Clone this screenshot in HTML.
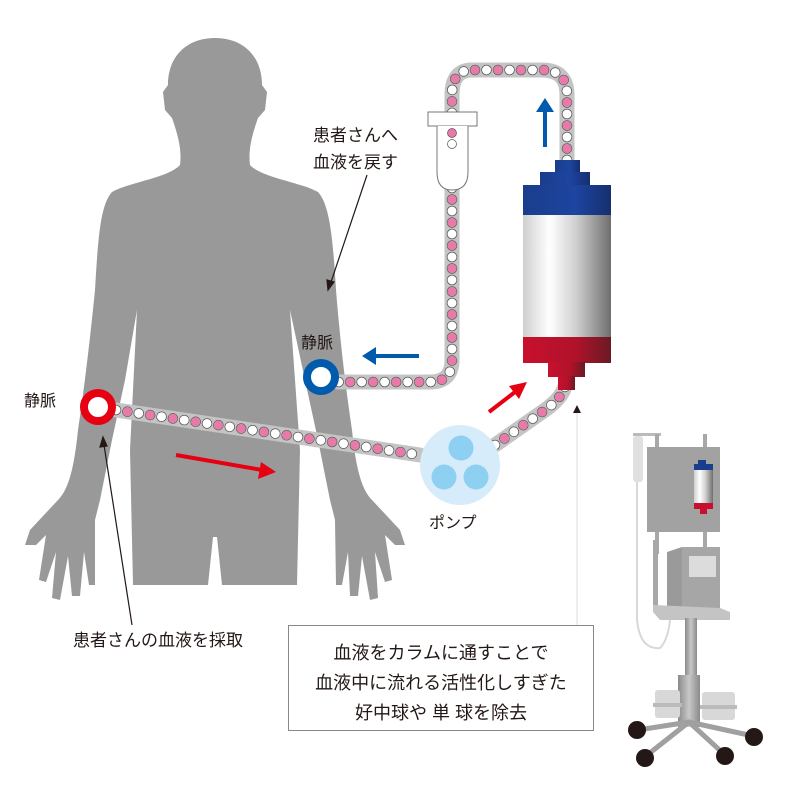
<!DOCTYPE html>
<html><head><meta charset="utf-8"><style>
html,body{margin:0;padding:0;background:#fff}
svg{display:block}
text{font-family:"Liberation Sans","Noto Sans CJK JP",sans-serif;fill:#231815}
</style></head><body>
<svg width="800" height="800" viewBox="0 0 800 800" xmlns="http://www.w3.org/2000/svg">
<defs>
<linearGradient id="colg" x1="0" x2="1" y1="0" y2="0">
<stop offset="0" stop-color="#cfcfcf"/><stop offset="0.3" stop-color="#ffffff"/><stop offset="0.6" stop-color="#d0d0d0"/><stop offset="1" stop-color="#6e6e6e"/></linearGradient>
<linearGradient id="redg" x1="0" x2="1"><stop offset="0" stop-color="#c8102e"/><stop offset="0.6" stop-color="#b0122a"/><stop offset="1" stop-color="#6a1a24"/></linearGradient>
<linearGradient id="blueg" x1="0" x2="1"><stop offset="0" stop-color="#1a3e8c"/><stop offset="0.6" stop-color="#1d44a0"/><stop offset="1" stop-color="#162f6e"/></linearGradient>
<linearGradient id="poleg" x1="0" x2="1"><stop offset="0" stop-color="#8a8a8a"/><stop offset="0.5" stop-color="#c8c8c8"/><stop offset="1" stop-color="#8a8a8a"/></linearGradient>
</defs>

<!-- body silhouette -->
<path fill="#999" d="M215,38 C243,38 262,56 262,85 L267,92 L265,110 L258,118 C252,135 248,150 250,165 C262,178 300,182 318,192 C330,205 333,240 336,290 C340,340 346,390 352,430 C356,470 362,490 372,500 L400,530 L405,545 L395,545 L385,535 L392,580 L385,582 L375,552 L378,598 L370,600 L362,556 L358,596 L350,596 L348,552 L342,585 L336,585 L335,520 L330,500 L318,440 L305,380 L290,310 L300,450 L297,585 L222,585 L217,537 L213,537 L208,585 L133,585 L130,450 L137,310 L125,380 L112,440 L100,500 L95,520 L95,585 L89,585 L84,552 L80,596 L72,596 L68,556 L60,600 L52,598 L56,552 L46,582 L39,580 L46,535 L36,545 L25,545 L30,530 L58,500 C68,490 74,470 78,430 C84,390 90,340 95,290 C98,240 100,205 112,192 C130,182 168,178 180,165 C182,150 178,135 172,118 L165,110 L163,92 L168,85 C168,56 187,38 215,38 Z"/>

<!-- tubes -->
<g fill="none" stroke-linecap="round" stroke-linejoin="round">
<path id="t1" d="M116,410 L420,455"/>
<path id="t2" d="M495,445 L545,410 Q566,395 566,380"/>
<path id="t3" d="M567,160 L567,95 Q567,70 542,70 L472,70 Q452,70 452,95 L452,118"/>
<path id="t4" d="M452,188 L452,360 Q452,382 430,382 L338,382"/>
</g>
<g fill="none" stroke="#c4c4c4" stroke-width="15" stroke-linecap="round" stroke-linejoin="round">
<use href="#t1"/><use href="#t2"/><use href="#t3"/><use href="#t4"/>
</g>
<g fill="none" stroke="#555" stroke-width="10.5" stroke-linecap="round" stroke-dasharray="0 11.5">
<use href="#t1"/><use href="#t2"/><use href="#t3"/><use href="#t4"/>
</g>
<g fill="none" stroke="#fff" stroke-width="9" stroke-linecap="round" stroke-dasharray="0 11.5">
<use href="#t1"/><use href="#t2"/><use href="#t3"/><use href="#t4"/>
</g>
<g fill="none" stroke="#e879a8" stroke-width="9" stroke-linecap="round" stroke-dasharray="0 23" stroke-dashoffset="11.5">
<use href="#t1"/><use href="#t2"/><use href="#t3"/><use href="#t4"/>
</g>

<!-- drip chamber -->
<rect x="428" y="112" width="49" height="14" fill="#fff" stroke="#777" stroke-width="1"/>
<path d="M437,126 L437,172 Q437,190 452,190 Q468,190 468,172 L468,126" fill="#fff" stroke="#777" stroke-width="1"/>
<circle cx="452" cy="133" r="4.5" fill="#e879a8" stroke="#555" stroke-width="0.7"/>
<circle cx="452" cy="144" r="4.5" fill="#fff" stroke="#555" stroke-width="0.7"/>

<!-- column -->
<rect x="555" y="160" width="25" height="13" fill="url(#blueg)"/>
<rect x="540" y="172" width="50" height="14" fill="url(#blueg)"/>
<rect x="523" y="185" width="88" height="30" fill="url(#blueg)"/>
<rect x="523" y="215" width="88" height="123" fill="url(#colg)"/>
<rect x="523" y="337" width="88" height="26" fill="url(#redg)"/>
<rect x="548" y="362" width="37" height="15" fill="url(#redg)"/>
<rect x="558" y="376" width="17" height="14" fill="url(#redg)"/>

<!-- pump -->
<circle cx="460" cy="465" r="40" fill="#d6ecfa"/>
<circle cx="461" cy="448" r="12.5" fill="#8ed0f2"/>
<circle cx="444" cy="477" r="12.5" fill="#8ed0f2"/>
<circle cx="476" cy="477" r="12.5" fill="#8ed0f2"/>

<!-- rings -->
<circle cx="98" cy="407" r="14" fill="#fff" stroke="#e60012" stroke-width="8"/>
<circle cx="321" cy="377" r="14" fill="#fff" stroke="#005bac" stroke-width="8"/>

<!-- arrows -->
<g stroke-width="4">
<line x1="176" y1="455" x2="262" y2="470" stroke="#e60012"/>
<polygon points="276,472 261,462 258,479" fill="#e60012"/>
<line x1="489" y1="412" x2="515" y2="392" stroke="#e60012"/>
<polygon points="527,382 509,386 519,399" fill="#e60012"/>
<line x1="545" y1="147" x2="545" y2="110" stroke="#005bac"/>
<polygon points="545,98 536,112 554,112" fill="#005bac"/>
<line x1="419" y1="356" x2="375" y2="356" stroke="#005bac"/>
<polygon points="362,356 376,347 376,365" fill="#005bac"/>
</g>

<!-- pointer lines -->
<g stroke="#231815" stroke-width="1.2" fill="#231815">
<line x1="367" y1="175" x2="331" y2="282"/>
<polygon points="328,290 327,280 334,282"/>
<line x1="132" y1="625" x2="104" y2="445"/>
<polygon points="103,437 100,447 107,446"/>
</g>
<line x1="577" y1="412" x2="577" y2="625" stroke="#ddd" stroke-width="1"/>
<polygon points="577,405 573,413 581,413" fill="#231815"/>

<!-- labels -->
<text x="313" y="141" font-size="17">患者さんへ</text>
<text x="313" y="168" font-size="17">血液を戻す</text>
<text x="301" y="348" font-size="16">静脈</text>
<text x="24" y="406" font-size="16">静脈</text>
<text x="429" y="528" font-size="16">ポンプ</text>
<text x="158" y="646" font-size="17" text-anchor="middle">患者さんの血液を採取</text>

<rect x="288.5" y="625.5" width="305" height="105" fill="#fff" stroke="#888" stroke-width="1"/>
<text x="441" y="659" font-size="18" text-anchor="middle">血液をカラムに通すことで</text>
<text x="441" y="689" font-size="18" text-anchor="middle">血液中に流れる活性化しすぎた</text>
<text x="441" y="719" font-size="18" text-anchor="middle">好中球や 単 球を除去</text>

<!-- apheresis machine -->
<path d="M637,482 L637,620 Q640,650 660,648 Q668,640 670,620" fill="none" stroke="#d8d8d8" stroke-width="2"/>
<rect x="633" y="433" width="28" height="3" fill="#bbb"/>
<rect x="633" y="436" width="10" height="46" rx="3" fill="#e0e0e0"/>
<rect x="655" y="434" width="4" height="120" fill="#a8a8a8"/>
<rect x="703" y="434" width="4" height="120" fill="#a8a8a8"/>
<rect x="653" y="540" width="5" height="70" fill="#a8a8a8"/>
<rect x="647" y="447" width="73" height="85" fill="#a2a2a2"/>
<rect x="698" y="460" width="8" height="4" fill="#1a3e8c"/>
<rect x="694" y="464" width="19" height="6" fill="#1a3e8c"/>
<rect x="694" y="470" width="19" height="33" fill="url(#colg)"/>
<rect x="694" y="503" width="19" height="6" fill="#c8102e"/>
<rect x="700" y="509" width="7" height="5" fill="#c8102e"/>
<polygon points="667,552 682,547 720,547 720,613 667,613" fill="#9a9a9a"/>
<rect x="682" y="547" width="38" height="66" fill="#a6a6a6"/>
<rect x="689" y="556" width="27" height="21" fill="#dcdcdc"/>
<polygon points="653,605 720,608 730,612 730,620 660,620 653,612" fill="#c4c4c4"/>
<rect x="685" y="618" width="12" height="58" fill="url(#poleg)"/>
<rect x="678" y="675" width="22" height="52" fill="url(#poleg)"/>
<rect x="655" y="690" width="25" height="28" rx="3" fill="#d8d8d8"/>
<rect x="702" y="692" width="33" height="28" rx="3" fill="#d8d8d8"/>
<rect x="653" y="703" width="29" height="4" fill="#bbb"/>
<rect x="700" y="705" width="37" height="4" fill="#bbb"/>
<g stroke="#a0a0a0" stroke-width="5" stroke-linecap="round">
<line x1="689" y1="722" x2="638" y2="730"/>
<line x1="689" y1="722" x2="753" y2="736"/>
<line x1="689" y1="722" x2="646" y2="756"/>
<line x1="689" y1="722" x2="725" y2="755"/>
</g>
<circle cx="637" cy="730" r="9" fill="#231815"/>
<circle cx="754" cy="737" r="9" fill="#231815"/>
<circle cx="645" cy="758" r="9" fill="#231815"/>
<circle cx="725" cy="756" r="9" fill="#231815"/>
</svg>
</body></html>
